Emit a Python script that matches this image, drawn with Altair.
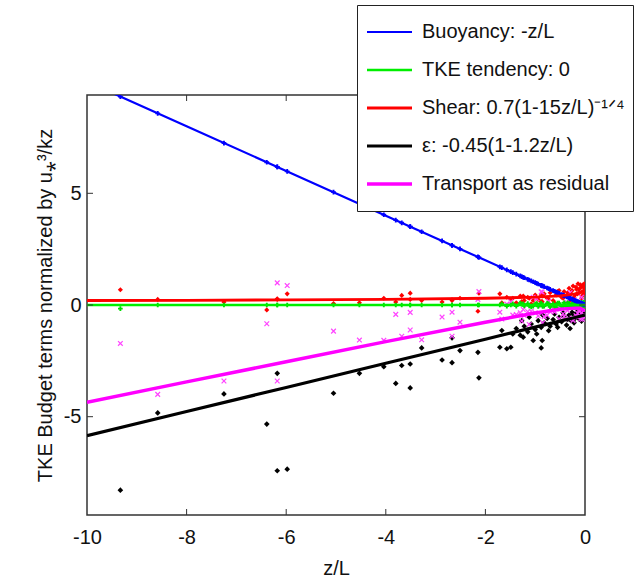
import altair as alt
import pandas as pd

# ---------------- data ----------------
zl = [-9.33, -8.58, -7.25, -6.39, -6.18, -6.18, -5.98, -5.05, -4.53, -4.04,
      -3.80, -3.68, -3.51, -3.51, -3.28, -2.87, -2.67, -2.67, -2.51, -2.13,
      -2.15, -1.71, -1.67, -1.57, -1.49, -1.24, -1.04, -0.88, -0.86,
      -1.45, -1.38, -1.30, -1.22, -1.15, -1.08, -1.00, -0.94, -0.88, -0.82,
      -0.76, -0.70, -0.64, -0.58, -0.52, -0.47, -0.42, -0.37, -0.32, -0.28,
      -0.24, -0.20, -0.17, -0.14, -0.11, -0.08, -0.06, -0.04, -0.02, -0.01,
      -1.27, -1.12, -0.97, -0.85, -0.73, -0.61, -0.55, -0.44, -0.35, -0.30,
      -0.26, -0.22, -0.18, -0.15, -0.12, -0.09, -0.07, -0.05, -0.03, -0.015]

buoyancy = [9.33, 8.58, 7.25, 6.39, 6.18, 6.18, 5.98, 5.05, 4.53, 4.04,
            3.80, 3.68, 3.51, 3.51, 3.28, 2.87, 2.67, 2.67, 2.51, 2.13,
            2.15, 1.71, 1.67, 1.57, 1.49, 1.24, 1.04, 0.88, 0.86,
            1.45, 1.38, 1.30, 1.22, 1.15, 1.08, 1.00, 0.94, 0.88, 0.82,
            0.76, 0.70, 0.64, 0.58, 0.52, 0.47, 0.42, 0.37, 0.32, 0.28,
            0.24, 0.20, 0.17, 0.14, 0.11, 0.08, 0.06, 0.04, 0.02, 0.01,
            1.27, 1.12, 0.97, 0.85, 0.73, 0.61, 0.55, 0.44, 0.35, 0.30,
            0.26, 0.22, 0.18, 0.15, 0.12, 0.09, 0.07, 0.05, 0.03, 0.015]

tendency = [-0.16, 0.0, 0.0, 0.0, 0.0, 0.0, 0.0, 0.0, 0.0, 0.0,
            0.0, 0.0, 0.0, 0.0, 0.0, 0.0, 0.0, 0.0, 0.0, 0.0,
            0.0, 0.0, 0.05, -0.05, 0.0, 0.05, -0.05, 0.05, 0.0,
            0.05, -0.05, 0.08, -0.04, 0.06, -0.08, 0.04, -0.06, 0.08, -0.05,
            0.07, -0.08, 0.05, -0.1, 0.08, -0.06, 0.1, -0.08, 0.06, -0.1,
            0.08, -0.06, 0.1, -0.1, 0.07, -0.12, 0.1, -0.08, 0.12, -0.1,
            0.04, -0.04, 0.06, -0.06, 0.05, -0.08, 0.08, -0.05, 0.1, -0.1,
            0.06, -0.08, 0.1, -0.12, 0.08, -0.1, 0.12, -0.08, 0.1, -0.12]

shear = [0.68, 0.25, 0.13, -0.22, 0.28, 0.25, 0.50, 0.07, 0.10, 0.30,
         0.13, 0.43, 0.53, 0.25, 0.20, 0.13, 0.23, 0.20, 0.30, 0.53,
         -0.28, 0.50, 0.10, 0.35, 0.25, 0.40, 0.20, 0.45, 0.15,
         0.30, 0.10, 0.40, 0.20, 0.35, 0.05, 0.45, 0.25, 0.15, 0.50,
         0.30, 0.55, 0.20, 0.45, 0.65, 0.35, 0.60, 0.40, 0.75, 0.50,
         0.85, 0.45, 0.70, 0.95, 0.55, 0.80, 0.40, 0.90, 0.60, 0.75,
         0.15, 0.30, 0.05, 0.40, 0.25, 0.10, 0.60, 0.30, 0.55, 0.20,
         0.65, 0.35, 0.80, 0.50, 0.70, 0.90, 0.30, 0.85, 0.50, 0.95]

eps = [-8.29, -4.83, -3.98, -5.33, -3.06, -7.42, -7.35, -3.95, -3.06, -2.76,
       -3.51, -2.71, -3.71, -2.64, -1.92, -2.46, -2.58, -1.47, -2.04, -3.26,
       -2.12, -1.89, -1.14, -1.96, -1.89, -1.44, -1.59, -1.92, -1.59,
       -1.30, -1.05, -1.35, -0.95, -1.20, -0.85, -1.10, -0.70, -1.00, -0.80,
       -0.60, -0.95, -0.65, -0.85, -0.55, -0.75, -0.50, -0.90, -0.45, -0.70,
       -0.40, -0.60, -0.35, -0.55, -0.40, -0.50, -0.32, -0.45, -0.38, -0.30,
       -0.70, -0.55, -1.30, -0.45, -1.15, -0.40, -1.00, -0.35, -0.65, -1.05,
       -0.33, -0.80, -0.50, -0.28, -0.62, -0.36, -0.72, -0.26, -0.55, -0.42]

transport = [-1.72, -4.00, -3.40, -0.84, -3.40, 0.99, 0.87, -1.17, -1.57, -1.58,
             -0.42, -1.40, -0.33, -1.12, -1.56, -0.54, -0.32, -1.40, -0.77, 0.60,
             0.25, -0.32, -0.63, 0.04, 0.15, -0.20, 0.35, 0.59, 0.58,
             -0.45, -0.43, -0.35, -0.47, -0.30, -0.28, -0.35, -0.49, -0.03, -0.52,
             -0.46, -0.30, -0.19, -0.18, -0.62, -0.07, -0.52, 0.13, -0.62, -0.08,
             -0.69, -0.05, -0.52, -0.54, -0.26, -0.38, -0.14, -0.49, -0.24, -0.46,
             -0.72, -0.87, 0.28, -0.80, 0.17, -0.31, -0.15, -0.39, -0.25, 0.55,
             -0.58, 0.23, -0.48, -0.37, -0.20, -0.63, 0.35, -0.64, 0.02, -0.55]

# model curves, sampled along z/L
line_zl = [-10, -8, -6, -4, -2, -1, -0.5, -0.2, -0.1, 0]
line_buoyancy = [10, 8, 6, 4, 2, 1, 0.5, 0.2, 0.1, 0]
line_tendency = [0, 0, 0, 0, 0, 0, 0, 0, 0, 0]
line_shear = [0.20, 0.21, 0.23, 0.25, 0.30, 0.35, 0.41, 0.50, 0.56, 0.70]
line_eps = [-5.85, -4.77, -3.69, -2.61, -1.53, -0.99, -0.72, -0.56, -0.50, -0.45]
line_transport = [-4.35, -3.44, -2.54, -1.64, -0.77, -0.36, -0.19, -0.14, -0.15, -0.25]

labels = ["Buoyancy: -z/L", "TKE tendency: 0", "Shear: 0.7(1-15z/L)\u207b\u00b9\u141f\u2074",
          "\u03b5: -0.45(1-1.2z/L)", "Transport as residual"]
colors = ["#0000ff", "#00ee00", "#ff0000", "#000000", "#ff00ff"]
line_widths = [2.2, 3.5, 2.5, 3.0, 3.5]

x_ticks = [-10, -8, -6, -4, -2, 0]
inner_x_ticks = [-8, -6, -4, -2]
y_ticks = [-5, 0, 5]

# ---------------- tables ----------------
pts = pd.DataFrame({"zl": zl, "buoyancy": buoyancy, "tendency": tendency,
                    "shear": shear, "eps": eps, "transport": transport})

line_series = [line_buoyancy, line_tendency, line_shear, line_eps, line_transport]
rows = []
for lab, vals in zip(labels, line_series):
    for xv, yv in zip(line_zl, vals):
        rows.append({"zl": xv, "value": yv, "series": lab})
lines = pd.DataFrame(rows)

FONT = "Liberation Sans"
xscale = alt.Scale(domain=[-10, 0], nice=False, zero=False)
yscale = alt.Scale(domain=[-9.4, 9.4], nice=False, zero=False)
xaxis = alt.Axis(values=x_ticks, title="z/L", labelPadding=12, titlePadding=11,
                 labelFlush=False, labelExpr="toString(datum.value)")
yaxis = alt.Axis(values=y_ticks, title="TKE Budget terms normalized by u\u204e\u00b3/kz",
                 labelPadding=6, titlePadding=8, labelFlush=False,
                 labelExpr="toString(datum.value)")


def X(field):
    return alt.X(f"{field}:Q", scale=xscale, axis=xaxis)


def Y(field):
    return alt.Y(f"{field}:Q", scale=yscale, axis=yaxis)


base = alt.Chart(pts)
xshape = "M-1,-1L1,1M-1,1L1,-1"

red_pts = base.mark_point(shape="diamond", filled=True, color="#ff0000", size=26,
                          opacity=1, clip=True).encode(x=X("zl"), y=Y("shear"))
green_pts = base.mark_point(shape="cross", filled=True, color="#00dd00", size=22,
                            opacity=1, clip=True).encode(x=X("zl"), y=Y("tendency"))
black_pts = base.mark_point(shape="diamond", filled=True, color="#000000", size=32,
                            opacity=1, clip=True).encode(x=X("zl"), y=Y("eps"))
mag_pts = base.mark_point(shape=xshape, filled=False, color="#ff44ff", size=22,
                          strokeWidth=1.2, opacity=1, clip=True).encode(x=X("zl"), y=Y("transport"))
blue_pts = base.mark_point(shape="cross", filled=True, color="#0000ff", size=22,
                           opacity=1, clip=True).encode(x=X("zl"), y=Y("buoyancy"))

curve = alt.Chart(lines).mark_line(clip=True).encode(
    x=X("zl"),
    y=Y("value"),
    color=alt.Color("series:N", sort=labels,
                    scale=alt.Scale(domain=labels, range=colors),
                    legend=alt.Legend(title=None, orient="none", legendX=270, legendY=-90,
                                      symbolType="stroke", symbolSize=2025,
                                      symbolStrokeWidth=2, labelFontSize=20,
                                      labelFont=FONT, labelColor="#111", labelOffset=8,
                                      padding=8, rowPadding=0, clipHeight=38,
                                      fillColor="white", strokeColor="#222",
                                      labelLimit=400)),
    strokeWidth=alt.StrokeWidth("series:N", sort=labels,
                                scale=alt.Scale(domain=labels, range=line_widths),
                                legend=None),
)

xt = alt.Chart(pd.DataFrame({"t": inner_x_ticks}))
yt = alt.Chart(pd.DataFrame({"t": y_ticks}))
tick_bottom = xt.mark_rule(color="#333", strokeWidth=1).encode(
    x=X("t"), y=alt.value(420), y2=alt.value(414))
tick_top = xt.mark_rule(color="#333", strokeWidth=1).encode(
    x=X("t"), y=alt.value(0), y2=alt.value(6))
tick_left = yt.mark_rule(color="#333", strokeWidth=1).encode(
    y=Y("t"), x=alt.value(0), x2=alt.value(6))
tick_right = yt.mark_rule(color="#333", strokeWidth=1).encode(
    y=Y("t"), x=alt.value(492), x2=alt.value(498))

chart = alt.layer(
    red_pts, black_pts, mag_pts, green_pts, blue_pts, curve,
    tick_bottom, tick_top, tick_left, tick_right,
).properties(
    width=498, height=420,
    autosize=alt.AutoSizeParams(type="none"),
    padding={"left": 87, "top": 95, "right": 57, "bottom": 66},
).configure_view(
    stroke="#333", strokeWidth=1.5
).configure_axis(
    domain=False, ticks=False, tickSize=0, grid=False,
    labelFont=FONT, labelFontSize=20, labelColor="#111",
    titleFont=FONT, titleFontSize=20, titleFontWeight="normal", titleColor="#111",
)

chart.save("out.html", embed_options={"renderer": "svg", "actions": False})
